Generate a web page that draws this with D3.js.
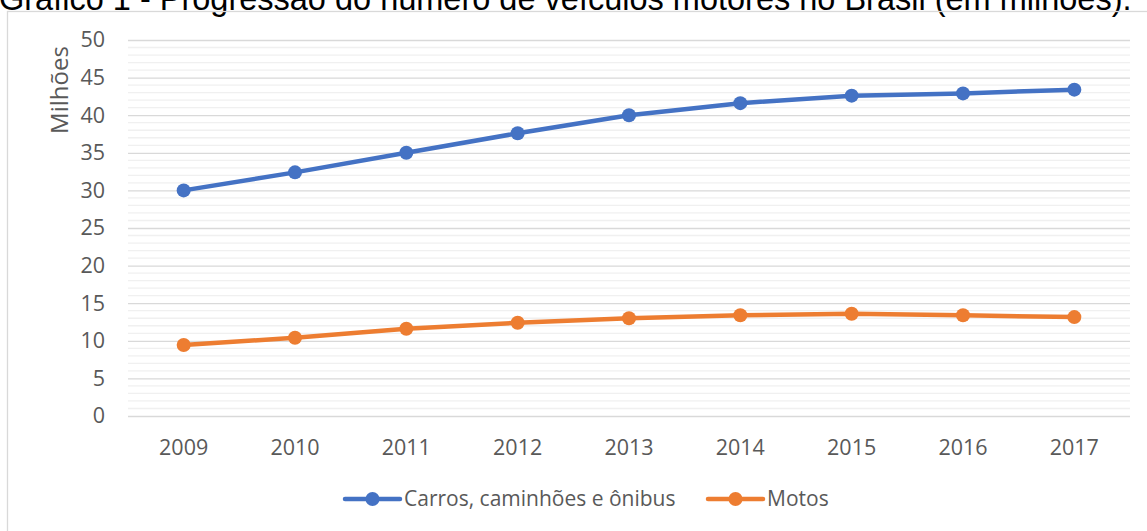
<!DOCTYPE html>
<html>
<head>
<meta charset="utf-8">
<script src="https://cdn.jsdelivr.net/npm/d3@7"></script>
<style>
  body { margin: 0; background: #fff; }
  svg { display: block; }
</style>
</head>
<body>
<svg id="chart"></svg>
<script>
// data (millions)
const years = ["2009", "2010", "2011", "2012", "2013", "2014", "2015", "2016", "2017"];
const carros = [30.0, 32.4, 35.0, 37.6, 40.0, 41.6, 42.6, 42.9, 43.4];
const motos = [9.45, 10.4, 11.6, 12.4, 13.0, 13.4, 13.6, 13.4, 13.15];
const yTicks = [0, 5, 10, 15, 20, 25, 30, 35, 40, 45, 50];
const seriesNames = ["Carros, caminhões e ônibus", "Motos"];

const WIDTH = 1147;
const HEIGHT = 531;
const PLOT = { LEFT: 128, RIGHT: 1130, TOP: 40, BOTTOM: 416 };
const COLORS = ["#4472c4", "#ed7d31"];
const FONT = "'Open Sans', 'Segoe UI', sans-serif";

let svg = d3.select("#chart")
  .attr("width", WIDTH)
  .attr("height", HEIGHT);

svg.append("rect")
  .attr("width", WIDTH)
  .attr("height", HEIGHT)
  .attr("fill", "#fff");

// title, cut off by the top edge in the original
svg.append("text")
  .attr("x", -1)
  .attr("y", 10)
  .style("font-family", "'Liberation Sans', Arial, sans-serif")
  .style("font-size", "32.5px")
  .attr("fill", "#000")
  .text("Gráfico 1 - Progressão do número de veículos motores no Brasil (em milhões).");

// chart area border
svg.append("rect")
  .attr("x", 7.5)
  .attr("y", 11.5)
  .attr("width", WIDTH + 10)
  .attr("height", HEIGHT + 10)
  .attr("fill", "none")
  .attr("stroke", "#d9d9d9")
  .attr("stroke-width", 1.3);

let xScale = d3.scaleBand()
  .domain(years)
  .range([PLOT.LEFT, PLOT.RIGHT]);
let yScale = d3.scaleLinear()
  .domain([0, 50])
  .range([PLOT.BOTTOM, PLOT.TOP]);

// minor gridlines
svg.append("g")
  .selectAll("line")
  .data(d3.range(0, 51).filter(v => v % 5 !== 0))
  .enter()
  .append("line")
    .attr("x1", PLOT.LEFT)
    .attr("x2", PLOT.RIGHT)
    .attr("y1", d => yScale(d))
    .attr("y2", d => yScale(d))
    .attr("stroke", "#f0f0f0")
    .attr("stroke-width", 1.3);

// major gridlines + tick labels
let yAxis = svg.append("g")
  .attr("transform", `translate(${PLOT.LEFT},0)`)
  .call(d3.axisLeft(yScale)
    .tickValues(yTicks)
    .tickSize(-(PLOT.RIGHT - PLOT.LEFT))
    .tickPadding(23));
yAxis.select(".domain").remove();
yAxis.selectAll(".tick line")
  .attr("stroke", "#d9d9d9")
  .attr("stroke-width", 1.3);
yAxis.selectAll(".tick text")
  .style("font-family", FONT)
  .style("font-size", "21.5px")
  .attr("fill", "#595959");

let xAxis = svg.append("g")
  .attr("transform", `translate(0,${PLOT.BOTTOM})`)
  .call(d3.axisBottom(xScale).tickSize(0).tickPadding(24));
xAxis.select(".domain").remove();
xAxis.selectAll(".tick text")
  .style("font-family", FONT)
  .style("font-size", "21.5px")
  .attr("fill", "#595959");

svg.append("text")
  .attr("transform", "translate(68,90) rotate(-90)")
  .style("text-anchor", "middle")
  .style("font-family", FONT)
  .style("font-size", "24px")
  .attr("fill", "#595959")
  .text("Milhões");

// series
let line = d3.line()
  .x((d, i) => xScale(years[i]) + xScale.bandwidth() / 2)
  .y(d => yScale(d));

[carros, motos].forEach(function(values, k) {
  svg.append("path")
    .datum(values)
    .attr("d", line)
    .attr("fill", "none")
    .attr("stroke", COLORS[k])
    .attr("stroke-width", 4.5)
    .attr("stroke-linejoin", "round");
  svg.append("g")
    .selectAll("circle")
    .data(values)
    .enter()
    .append("circle")
      .attr("cx", (d, i) => xScale(years[i]) + xScale.bandwidth() / 2)
      .attr("cy", d => yScale(d))
      .attr("r", 7)
      .attr("fill", COLORS[k]);
});

// legend
const LEGEND_Y = 499;
const legendX = [345, 708];
seriesNames.forEach(function(name, k) {
  let g = svg.append("g").attr("transform", `translate(${legendX[k]},${LEGEND_Y})`);
  g.append("line")
    .attr("x1", 0)
    .attr("x2", 55)
    .attr("stroke", COLORS[k])
    .attr("stroke-width", 4.5)
    .attr("stroke-linecap", "round");
  g.append("circle")
    .attr("cx", 27.5)
    .attr("r", 7)
    .attr("fill", COLORS[k]);
  g.append("text")
    .attr("x", 59)
    .attr("dy", "0.35em")
    .style("font-family", FONT)
    .style("font-size", "21px")
    .attr("fill", "#595959")
    .text(name);
});
</script>
</body>
</html>
